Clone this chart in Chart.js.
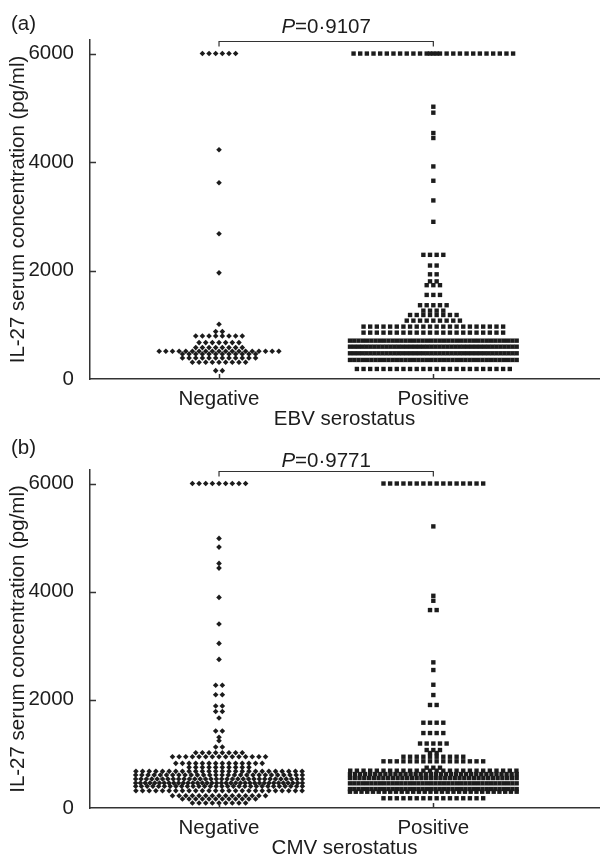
<!DOCTYPE html>
<html>
<head>
<meta charset="utf-8">
<script src="https://cdn.jsdelivr.net/npm/chart.js@4.4.0/dist/chart.umd.min.js"></script>
<style>
  body { margin: 0; background: #fff; width: 603px; height: 859px; overflow: hidden; }
  canvas { display: block; }
</style>
</head>
<body>
<canvas id="ebv" width="603" height="430"></canvas>
<canvas id="cmv" width="603" height="429"></canvas>
<script>
const groups = ['Negative', 'Positive']
const yTicks = [0, 2000, 4000, 6000]

// dot rows: value of the row and how many dots sit in it
const ebvNegLevels = [6000, 4227, 3618, 2677, 1957, 1010, 874, 794, 671, 579, 511, 462, 388, 308, 154]
const ebvNegCounts = [6, 1, 1, 1, 1, 1, 2, 8, 7, 8, 19, 12, 12, 9, 2]

const ebvPosLevels = [6000, 6000, 5020, 4910, 4535, 4443, 3919, 3655, 3292, 2898, 2289, 2092, 1930, 1800, 1730,
  1550, 1360, 1260, 1180, 1076, 966, 855, 707, 596, 474, 351, 185]
const ebvPosCounts = [25, 2, 1, 1, 1, 1, 1, 1, 1, 1, 4, 2, 2, 2, 3,
  3, 5, 4, 8, 9, 22, 22, 40, 42, 42, 40, 24]

const cmvNegLevels = [6000, 4985, 4824, 4523, 4436, 3894, 3401, 3044, 2748, 2270, 2095, 1885, 1785, 1664,
  1425, 1307, 1244, 1128, 1022, 948, 826, 752, 678, 610, 536, 462, 401, 320, 227, 166, 92]
const cmvNegCounts = [9, 1, 1, 1, 1, 1, 1, 1, 1, 2, 2, 2, 2, 1,
  2, 1, 1, 2, 8, 15, 14, 10, 26, 28, 32, 36, 30, 26, 15, 12, 9]

const cmvPosLevels = [6000, 5207, 3924, 3832, 3660, 2693, 2551, 2279, 2089, 1905, 1577, 1386, 1192, 1072, 1017,
  948, 863, 745, 690, 628, 554, 456, 351, 301, 180]
const cmvPosCounts = [16, 1, 1, 1, 2, 1, 1, 1, 1, 2, 4, 4, 5, 3, 2,
  10, 16, 3, 26, 34, 36, 40, 40, 30, 16]

const ink = '#1c1c1c'
const axisColor = '#333'
const font = {family: '"Liberation Sans", Arial, Helvetica, sans-serif', size: 20.5}

// x axis runs 0.398..2.773 over 513px, so one category step is 216px
const xMin = 0.398, xMax = 2.773
const pxPerUnit = 216
const dotGap = 6.7    // px between dots in a row
const maxRow = 168    // widest a row may get, px

function swarm(levels, counts, cat) {
  const pts = []
  levels.forEach((v, r) => {
    const n = counts[r]
    const gap = n > 1 ? Math.min(dotGap, maxRow / (n - 1)) : 0
    for (let i = 0; i < n; i++) {
      pts.push({x: cat + (i - (n - 1) / 2) * gap / pxPerUnit, y: v})
    }
  })
  return pts
}

const inwardTicks = {
  id: 'inwardTicks',
  afterDraw(chart) {
    const {ctx, chartArea: a} = chart
    const x = chart.scales.x, y = chart.scales.y
    ctx.save()
    ctx.strokeStyle = axisColor
    ctx.lineWidth = 1.5
    ctx.beginPath()
    yTicks.forEach(v => {
      if (v > 0) {
        const py = Math.round(y.getPixelForValue(v)) + 0.5
        ctx.moveTo(a.left, py); ctx.lineTo(a.left + 6, py)
      }
    })
    groups.forEach((g, i) => {
      const px = Math.round(x.getPixelForValue(i + 1)) + 0.5
      ctx.moveTo(px, a.bottom); ctx.lineTo(px, a.bottom - 5)
    })
    ctx.stroke()
    ctx.restore()
  }
}

const bracket = {
  id: 'bracket',
  afterDraw(chart, args, opts) {
    const {ctx, chartArea: a} = chart
    const x = chart.scales.x
    const x1 = x.getPixelForValue(1), x2 = x.getPixelForValue(2)
    const by = a.top + 1.5
    ctx.save()
    ctx.strokeStyle = axisColor
    ctx.lineWidth = 1.2
    ctx.beginPath()
    ctx.moveTo(x1, by + 5); ctx.lineTo(x1, by); ctx.lineTo(x2, by); ctx.lineTo(x2, by + 5)
    ctx.stroke()

    ctx.fillStyle = ink
    ctx.textBaseline = 'middle'
    const italic = 'italic ' + font.size + 'px ' + font.family
    const normal = font.size + 'px ' + font.family
    ctx.font = italic
    const wP = ctx.measureText('P').width
    ctx.font = normal
    const wRest = ctx.measureText(opts.rest).width
    let tx = (x1 + x2) / 2 - (wP + wRest) / 2
    ctx.textAlign = 'left'
    ctx.font = italic
    ctx.fillText('P', tx, opts.textY)
    ctx.font = normal
    ctx.fillText(opts.rest, tx + wP, opts.textY)

    ctx.fillText(opts.letter, 11, opts.letterY)
    ctx.restore()
  }
}

function makeChart(id, negLevels, negCounts, posLevels, posCounts, xTitle, rest, letter, letterY, textY) {
  return new Chart(document.getElementById(id), {
    type: 'scatter',
    data: {
      datasets: [{
        label: groups[0],
        data: swarm(negLevels, negCounts, 1),
        pointStyle: 'rectRot',
        pointRadius: 2.8,
        pointBackgroundColor: ink,
        pointBorderWidth: 0,
        clip: false
      }, {
        label: groups[1],
        data: swarm(posLevels, posCounts, 2),
        pointStyle: 'rect',
        pointRadius: 3.1,
        pointBackgroundColor: ink,
        pointBorderWidth: 0,
        clip: false
      }]
    },
    options: {
      responsive: false,
      animation: false,
      events: [],
      layout: {padding: {top: 40, right: 0, bottom: 0, left: 0}},
      plugins: {
        legend: {display: false},
        tooltip: {enabled: false},
        bracket: {rest: rest, letter: letter, letterY: letterY, textY: textY}
      },
      scales: {
        x: {
          type: 'linear',
          min: xMin,
          max: xMax,
          afterBuildTicks: s => { s.ticks = groups.map((g, i) => ({value: i + 1})) },
          afterFit: s => { s.height = 51 },
          ticks: {callback: v => groups[v - 1], font: font, color: ink, padding: 0, autoSkip: false, maxRotation: 0},
          grid: {display: false},
          border: {color: axisColor, width: 1.5},
          title: {display: true, text: xTitle, font: font, color: ink, padding: {top: 0, bottom: -2}}
        },
        y: {
          min: 0,
          max: 6250,
          afterBuildTicks: s => { s.ticks = yTicks.map(v => ({value: v})) },
          afterFit: s => { s.width = 90 },
          ticks: {callback: v => String(v), font: font, color: ink, padding: 8},
          grid: {display: false},
          border: {color: axisColor, width: 1.5},
          title: {display: true, text: 'IL-27 serum concentration (pg/ml)', font: font, color: ink, padding: {top: 6, bottom: 0}}
        }
      }
    },
    plugins: [inwardTicks, bracket]
  })
}

makeChart('ebv', ebvNegLevels, ebvNegCounts, ebvPosLevels, ebvPosCounts, 'EBV serostatus', '=0\u00b79107', '(a)', 24, 27)
makeChart('cmv', cmvNegLevels, cmvNegCounts, cmvPosLevels, cmvPosCounts, 'CMV serostatus', '=0\u00b79771', '(b)', 18, 31)
</script>
</body>
</html>
